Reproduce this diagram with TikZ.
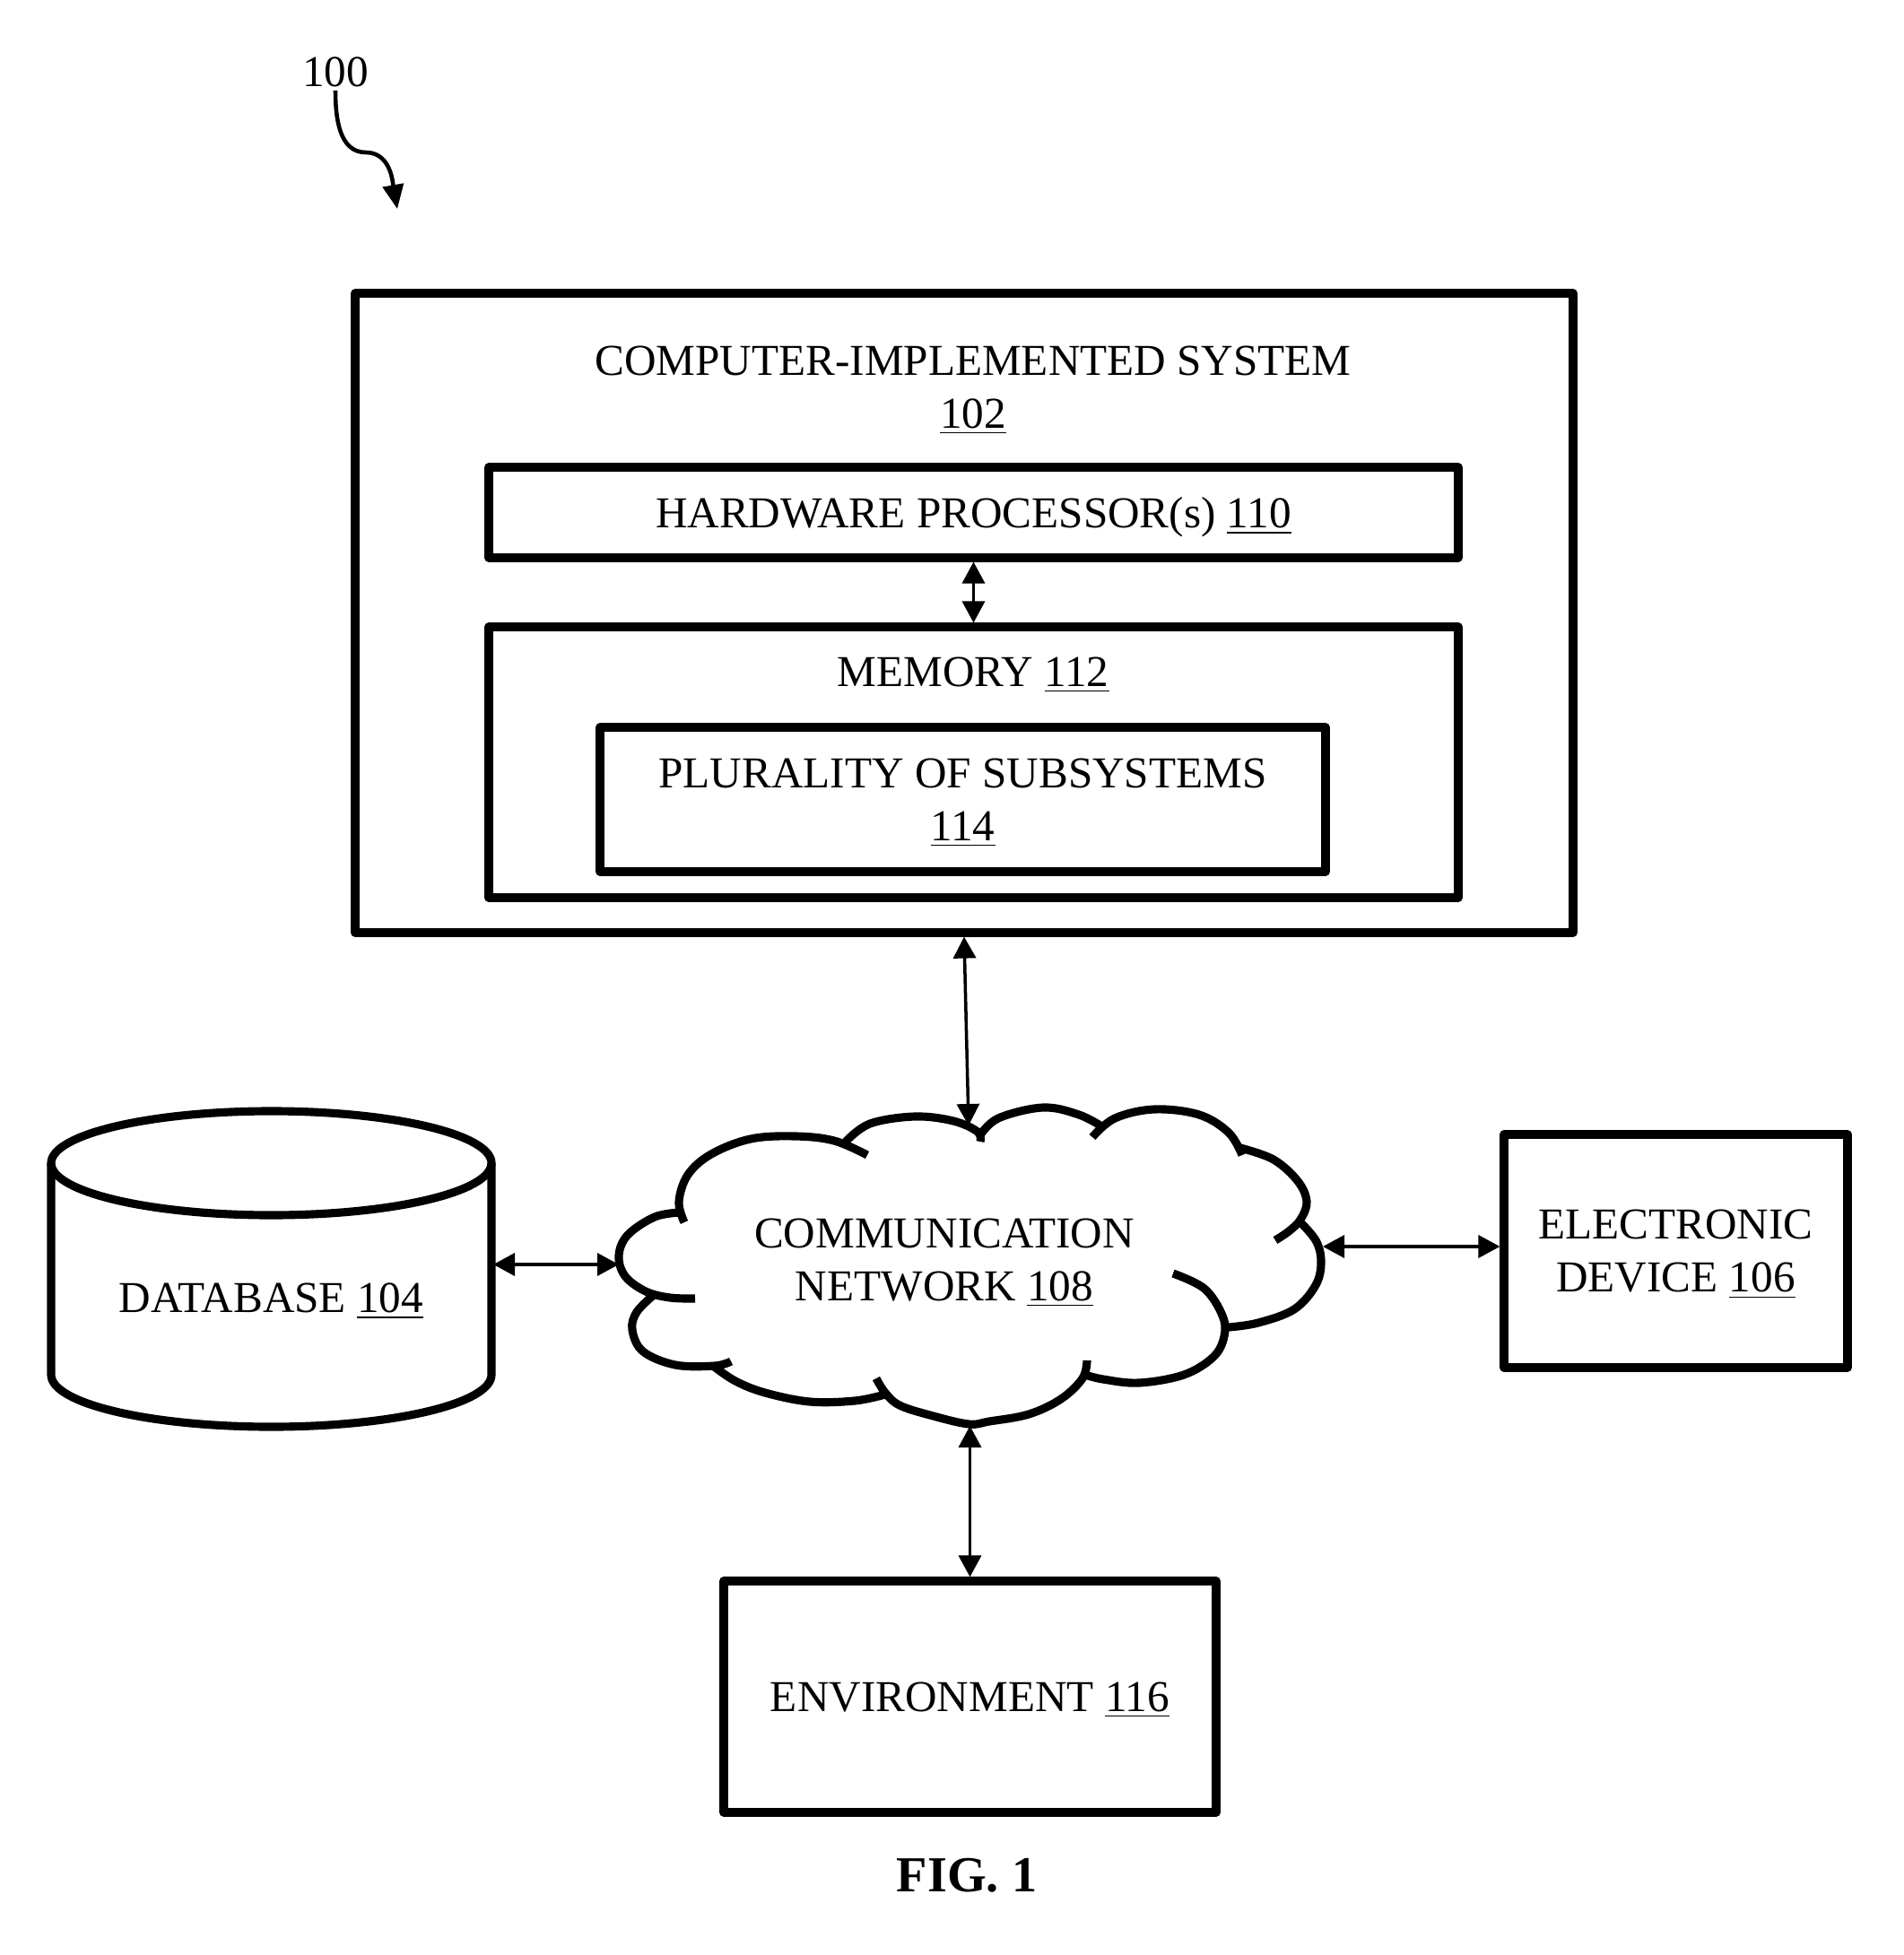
\documentclass[tikz,border=0pt]{standalone}
\usepackage{fontspec}
\setmainfont{Liberation Serif}
\usepackage{tikz}
\usetikzlibrary{arrows.meta}
\tikzset{
	unit/.style={draw, line width=2.6pt, line join=round, inner sep=0pt, align=center, text depth=0pt},
	link/.style={{Triangle[length=2.4mm,width=2.5mm]}-{Triangle[length=2.4mm,width=2.5mm]}, line width=1pt},
	cloudline/.style={line width=2.6pt, smooth, tension=0.6},
	lab/.style={align=center, inner sep=1pt}
}

\begin{document}
\begin{tikzpicture}[font=\fontsize{14}{16.8}\selectfont]
		\useasboundingbox (0,0) rectangle (21.22,-21.80);
		% reference numeral
		\node[lab] (ref) at (3.74,-0.80) {100};
		\draw[line width=1.3pt, -{Triangle[length=2.7mm,width=2.3mm]}] (ref.south) to[out=-90,in=180] (4.08,-1.70) to[out=0,in=100] (4.43,-2.33);
		% system block
		\node[unit, minimum width=13.58cm, minimum height=7.13cm] (sys) at (10.75,-6.835) {};
		\node[lab] (systitle) at (10.85,-4.35) {COMPUTER-IMPLEMENTED SYSTEM\\\underline{102}};
		\node[unit, minimum width=10.81cm, minimum height=1.01cm] (proc) at (10.855,-5.715) {HARDWARE PROCESSOR(s) \underline{110}};
		\node[unit, minimum width=10.81cm, minimum height=3.02cm] (mem) at (10.855,-8.50) {};
		\node[lab] (memtitle) at (10.85,-7.53) {MEMORY \underline{112}};
		\node[unit, minimum width=8.09cm, minimum height=1.61cm] (sub) at (10.735,-8.915) {PLURALITY OF SUBSYSTEMS\\\underline{114}};
		\draw[link] (proc.south) -- (mem.north);
		% database
		\draw[line width=2.6pt] (3.025,-12.97) ellipse [x radius=2.455, y radius=0.58];
		\draw[line width=2.6pt, line join=round] (0.57,-12.97) -- (0.57,-15.33) arc[start angle=180, end angle=360, x radius=2.455, y radius=0.58] -- (5.48,-12.97);
		\node[lab] (db) at (3.025,-14.51) {DATABASE \underline{104}};
		\coordinate (dbE) at (5.50,-14.10);
		% network cloud
		\draw[cloudline] plot coordinates {(7.63,-13.63) (7.57,-13.40) (7.67,-13.10) (7.93,-12.87) (8.37,-12.70) (8.87,-12.67) (9.30,-12.72) (9.67,-12.88)}
			plot coordinates {(9.43,-12.73) (9.70,-12.53) (10.20,-12.45) (10.63,-12.50) (10.90,-12.62) (10.93,-12.73)}
			plot coordinates {(10.92,-12.67) (11.13,-12.47) (11.63,-12.35) (12.03,-12.43) (12.30,-12.57)}
			plot coordinates {(12.18,-12.68) (12.43,-12.47) (12.87,-12.37) (13.37,-12.43) (13.70,-12.63) (13.85,-12.88)}
			plot coordinates {(13.83,-12.80) (14.20,-12.93) (14.47,-13.17) (14.57,-13.40) (14.50,-13.60) (14.37,-13.73) (14.22,-13.83)}
			plot coordinates {(14.47,-13.60) (14.67,-13.83) (14.73,-14.07) (14.67,-14.33) (14.43,-14.60) (14.03,-14.75) (13.70,-14.80)}
			plot coordinates {(13.08,-14.20) (13.43,-14.37) (13.63,-14.67) (13.65,-14.90) (13.53,-15.13) (13.20,-15.33) (12.70,-15.42) (12.30,-15.38) (12.10,-15.33)}
			plot coordinates {(12.12,-15.17) (12.07,-15.37) (11.83,-15.60) (11.47,-15.77) (11.03,-15.85) (10.80,-15.88) (10.37,-15.78) (10.03,-15.67) (9.87,-15.53) (9.77,-15.37)}
			plot coordinates {(7.95,-15.23) (8.20,-15.40) (8.53,-15.53) (9.03,-15.63) (9.53,-15.62) (9.87,-15.55)}
			plot coordinates {(7.30,-14.43) (7.10,-14.63) (7.05,-14.83) (7.17,-15.07) (7.53,-15.22) (7.97,-15.23) (8.15,-15.18)}
			plot coordinates {(7.58,-13.52) (7.30,-13.57) (7.00,-13.77) (6.90,-14.00) (6.97,-14.23) (7.20,-14.40) (7.47,-14.47) (7.75,-14.48)};
		\node[lab] (net) at (10.53,-14.08) {COMMUNICATION\\NETWORK \underline{108}};
		\coordinate (netN) at (10.80,-12.55);
		\coordinate (netW) at (6.90,-14.10);
		\coordinate (netE) at (14.75,-13.90);
		\coordinate (netS) at (10.815,-15.90);
		% device and environment
		\node[unit, minimum width=3.83cm, minimum height=2.60cm] (dev) at (18.685,-13.95) {ELECTRONIC\\DEVICE \underline{106}};
		\node[unit, minimum width=5.49cm, minimum height=2.58cm] (env) at (10.815,-18.92) {ENVIRONMENT \underline{116}};
		\draw[link] (sys.south) -- (netN);
		\draw[link] (dbE) -- (netW);
		\draw[link] (netE) -- (netE -| dev.west);
		\draw[link] (netS) -- (env.north);
		\node[font=\bfseries\fontsize{16}{19}\selectfont] (fig) at (10.78,-20.91) {FIG. 1};
	\end{tikzpicture}
\end{document}
